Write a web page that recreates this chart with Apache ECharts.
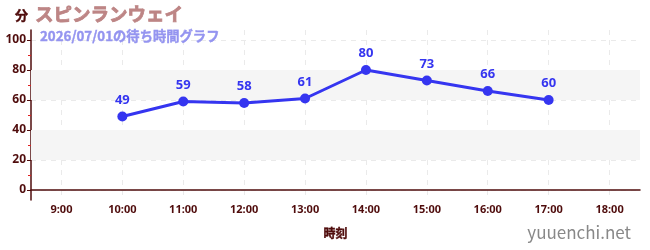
<!DOCTYPE html>
<html><head><meta charset="utf-8">
<script src="https://cdn.jsdelivr.net/npm/echarts@6/dist/echarts.min.js"></script>
<style>html,body{margin:0;padding:0;background:#fff}#c{width:650px;height:250px}</style>
</head><body><div id="c"></div>
<script>
const categories = ['9:00','10:00','11:00','12:00','13:00','14:00','15:00','16:00','17:00','18:00'];
const waitTimes = [null,49,59,58,61,80,73,66,60,null];
const yMajorTicks = [0,20,40,60,80,100];
const yMinorTicks = [10,30,50,70,90];
const shadedBands = [[20,40],[60,80]];
const titleText = 'スピンランウェイ';
const subtitleText = '2026/07/01の待ち時間グラフ';
const yName = '分';
const xName = '時刻';
const watermark = 'yuuenchi.net';

const axisColor = '#4f0c0c';
const font = '"Noto Sans CJK JP", "Noto Sans", sans-serif';
const numFont = '"Noto Sans", "Noto Sans CJK JP", sans-serif';
const chart = echarts.init(document.getElementById('c'), null, {renderer:'canvas'});
const yMin = -20/3, yMax = 320/3;
chart.setOption({
  animation:false,
  textStyle:{fontFamily:font},
  title:[
    {text:titleText, left:30, top:0, textStyle:{fontSize:18.5, fontWeight:'bold', color:'#bd8585', fontFamily:font, textBorderColor:'#bd8585', textBorderWidth:0.8}},
    {text:subtitleText, left:35, top:24, textStyle:{fontSize:13.3, fontWeight:'bold', color:'#9494f0', fontFamily:font, textBorderColor:'#9494f0', textBorderWidth:0.4}},
    {text:watermark, right:14, bottom:4, textStyle:{fontSize:17, fontWeight:'normal', color:'#888', fontFamily:font}}
  ],
  grid:{left:31, right:10, top:30, bottom:50, containLabel:false},
  xAxis:{
    type:'category', data:categories, boundaryGap:true,
    name:xName, nameLocation:'middle', nameGap:27,
    nameTextStyle:{color:axisColor, fontSize:12, fontWeight:'bold', fontFamily:font, textBorderColor:axisColor, textBorderWidth:0.4},
    axisLine:{lineStyle:{color:axisColor, width:1.5}},
    axisTick:{alignWithLabel:true, length:3, lineStyle:{color:'#888', width:2}},
    axisLabel:{color:axisColor, fontSize:11, fontWeight:'bold', margin:4, fontFamily:numFont},
    splitLine:{show:true, alignWithLabel:true, lineStyle:{color:'#eaeaea', type:[5,5]}}
  },
  yAxis:[{
    type:'value', min:yMin, max:yMax,
    name:yName, nameLocation:'end', nameGap:8,
    nameTextStyle:{color:axisColor, fontSize:13, fontWeight:'bold', align:'right', padding:[0,3,0,0], fontFamily:font, textBorderColor:axisColor, textBorderWidth:0.4},
    axisLine:{show:true, lineStyle:{color:axisColor, width:1.5}},
    axisTick:{show:true, length:4, customValues:yMajorTicks, lineStyle:{color:axisColor}},
    axisLabel:{color:axisColor, fontSize:12, fontWeight:'bold', margin:5, customValues:yMajorTicks, fontFamily:numFont},
    splitLine:{show:true, lineStyle:{color:'#eaeaea', type:[5,5]}}
  },{
    type:'value', min:yMin, max:yMax, position:'left',
    axisLine:{show:false},
    axisTick:{show:true, length:3, customValues:yMinorTicks, lineStyle:{color:'#e02020'}},
    axisLabel:{show:false},
    splitLine:{show:false}
  }],
  series:[{
    type:'line', data:waitTimes, yAxisIndex:0,
    symbol:'circle', symbolSize:10, connectNulls:false,
    itemStyle:{color:'#3535f0'},
    lineStyle:{color:'#3535f0', width:3},
    label:{show:true, position:'top', distance:5, color:'#3535f0', fontSize:13, fontWeight:'bold', fontFamily:numFont},
    markArea:{silent:true, itemStyle:{color:'#f5f5f5'},
      data: shadedBands.map(b=>[{yAxis:b[0]},{yAxis:b[1]}])},
    z:5
  }]
});
</script></body></html>
